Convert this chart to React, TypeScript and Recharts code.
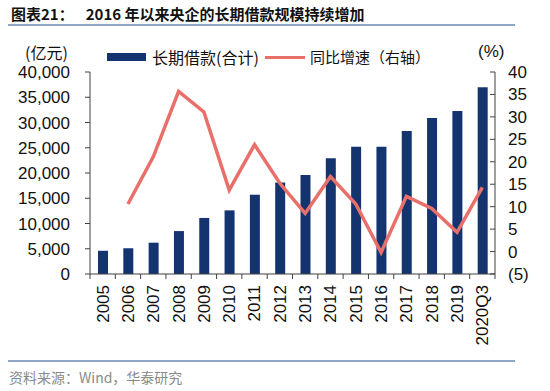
import React from 'react';
import { ComposedChart, Bar, Line, XAxis, YAxis } from 'recharts';

const years = [
  '2005', '2006', '2007', '2008', '2009', '2010', '2011', '2012',
  '2013', '2014', '2015', '2016', '2017', '2018', '2019', '2020Q3',
];
// 长期借款(合计), 亿元
const loans = [
  4600, 5100, 6200, 8500, 11100, 12600, 15700, 18100,
  19600, 22900, 25200, 25200, 28300, 30900, 32300, 37000,
];
// 同比增速, %
const growth = [
  null, 10.6, 21.1, 35.7, 31.1, 13.7, 23.8, 15.2,
  8.5, 16.7, 10.6, -0.2, 12.3, 9.6, 4.3, 14.3,
];
const leftTicks = [0, 5000, 10000, 15000, 20000, 25000, 30000, 35000, 40000];
const rightTicks = [-5, 0, 5, 10, 15, 20, 25, 30, 35, 40];

const data = years.map((year, i) => ({ year, loans: loans[i], growth: growth[i] }));

const NAVY = '#14346f';
const SALMON = '#e9706a';
const AXIS = '#404040';
const FONT = '"Liberation Sans", Arial, sans-serif';
const CJK = '"Noto Sans CJK SC", sans-serif';

const XTick = (props: any) => {
  const { x, y, payload, index } = props;
  const off = payload.offset ?? 405 / years.length / 2;
  const axisY = y - 11;
  return (
    <g>
      <line x1={x - off} x2={x - off} y1={axisY} y2={axisY + 5} stroke={AXIS} />
      {index === years.length - 1 && (
        <line x1={x + off} x2={x + off} y1={axisY} y2={axisY + 5} stroke={AXIS} />
      )}
      <text
        x={x}
        y={y}
        dy="0.35em"
        textAnchor="end"
        transform={`rotate(-90, ${x}, ${y})`}
        fontSize={17}
        fontFamily={FONT}
        fill="#111"
      >
        {payload.value}
      </text>
    </g>
  );
};

const RightTick = (props: any) => {
  const { x, y, payload } = props;
  const v = payload.value;
  const axisX = x - 13;
  return (
    <g>
      <line x1={axisX - 5} x2={axisX} y1={y} y2={y} stroke={AXIS} />
      <text x={x} y={y} dy="0.35em" textAnchor="start" fontSize={17} fontFamily={FONT} fill="#111">
        {v < 0 ? `(${-v})` : v}
      </text>
    </g>
  );
};

export default function App() {
  return (
    <div style={{ position: 'absolute', left: 0, top: 0, width: 550, height: 391, background: '#fff', overflow: 'hidden' }}>
      {/* title */}
      <div style={{ position: 'absolute', left: 11, top: 4, fontFamily: CJK, fontWeight: 700, fontSize: 15, color: '#111', whiteSpace: 'nowrap', lineHeight: '20px' }}>
        图表21：<span style={{ marginLeft: 12 }}>2016 年以来央企的长期借款规模持续增加</span>
      </div>
      <div style={{ position: 'absolute', left: 8, top: 24, width: 507, height: 1.5, background: '#8fa6c6' }} />

      {/* units + legend */}
      <div style={{ position: 'absolute', left: 25, top: 44, fontFamily: CJK, fontSize: 16, color: '#111', lineHeight: '16px' }}>(亿元)</div>
      <div style={{ position: 'absolute', left: 478, top: 44, fontFamily: FONT, fontSize: 17, color: '#111', lineHeight: '16px' }}>(%)</div>
      <div style={{ position: 'absolute', left: 107, top: 53, width: 39, height: 8, background: NAVY }} />
      <div style={{ position: 'absolute', left: 152, top: 47, fontFamily: CJK, fontSize: 16, color: '#111', lineHeight: '20px', whiteSpace: 'nowrap' }}>长期借款(合计)</div>
      <div style={{ position: 'absolute', left: 265, top: 56, width: 40, height: 3, background: SALMON }} />
      <div style={{ position: 'absolute', left: 310, top: 47, fontFamily: CJK, fontSize: 15, color: '#111', lineHeight: '20px', whiteSpace: 'nowrap' }}>同比增速（右轴）</div>

      <div style={{ position: 'absolute', left: 0, top: 0 }}>
        <ComposedChart width={550} height={391} data={data} margin={{ top: 72, right: 0, bottom: 0, left: 0 }}>
          <XAxis
            dataKey="year"
            height={117}
            interval={0}
            tickLine={false}
            tickSize={0}
            tickMargin={11}
            axisLine={{ stroke: AXIS }}
            tick={<XTick />}
          />
          <YAxis
            yAxisId="left"
            width={90}
            domain={[0, 40000]}
            ticks={leftTicks}
            interval={0}
            tickSize={5}
            tickMargin={15}
            axisLine={{ stroke: AXIS }}
            tickLine={{ stroke: AXIS }}
            tick={{ fontSize: 17, fontFamily: FONT, fill: '#111' }}
            tickFormatter={(v) => v.toLocaleString('en-US')}
          />
          <YAxis
            yAxisId="right"
            orientation="right"
            width={55}
            domain={[-5, 40]}
            ticks={rightTicks}
            interval={0}
            tickSize={5}
            tickMargin={8}
            axisLine={{ stroke: AXIS }}
            tickLine={false}
            tick={<RightTick />}
          />
          <Bar yAxisId="left" dataKey="loans" fill={NAVY} barSize={10} isAnimationActive={false} />
          <Line
            yAxisId="right"
            dataKey="growth"
            stroke={SALMON}
            strokeWidth={3.5}
            dot={false}
            activeDot={false}
            type="linear"
            isAnimationActive={false}
          />
        </ComposedChart>
      </div>

      {/* footer */}
      <div style={{ position: 'absolute', left: 8, top: 360, width: 507, height: 1.5, background: '#8fa6c6' }} />
      <div style={{ position: 'absolute', left: 9, top: 367, fontFamily: CJK, fontSize: 14, color: '#8a8a8a', lineHeight: '20px', whiteSpace: 'nowrap' }}>
        资料来源：Wind，华泰研究
      </div>
    </div>
  );
}
